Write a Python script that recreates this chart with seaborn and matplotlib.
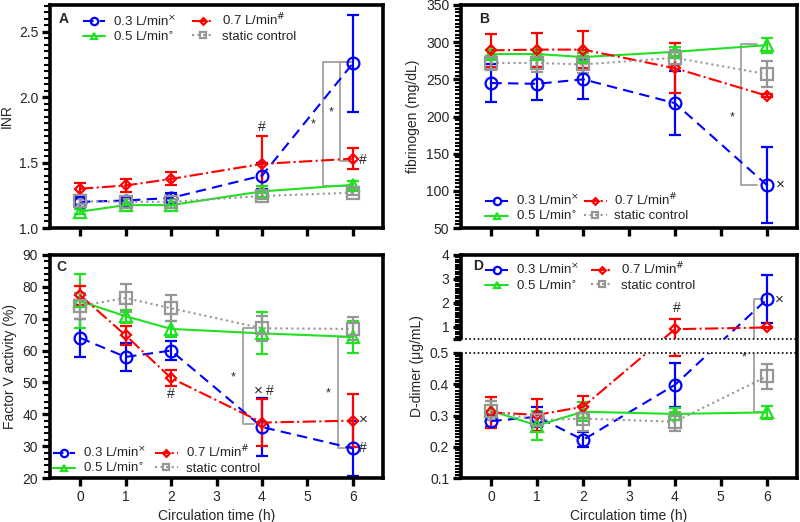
import numpy as np
import matplotlib
matplotlib.use("Agg")
import matplotlib.pyplot as plt
import seaborn as sns
import pandas as pd
from matplotlib.ticker import MultipleLocator, FixedLocator, FixedFormatter

# ---------------- data ----------------
time_h = [0, 1, 2, 4, 6]
legend_labels = ["0.3 L/min$^{\\times}$", "0.5 L/min$^{\\circ}$",
                 "0.7 L/min$^{\\#}$", "static control"]

# A: INR
inr_03 = [1.20, 1.21, 1.23, 1.40, 2.26]
inr_03_err = [0.04, 0.03, 0.04, 0.10, 0.37]
inr_05 = [1.125, 1.175, 1.175, 1.28, 1.33]
inr_05_err = [0.02, 0.02, 0.02, 0.04, 0.03]
inr_07 = [1.30, 1.325, 1.375, 1.49, 1.53]
inr_07_err = [0.045, 0.05, 0.05, 0.21, 0.08]
inr_sc = [1.205, 1.20, 1.20, 1.245, 1.27]
inr_sc_err = [0.02, 0.02, 0.02, 0.02, 0.02]

# B: fibrinogen (mg/dL)
fib_03 = [245, 244, 250, 218, 108]
fib_03_err = [26, 22, 27, 43, 51]
fib_05 = [284, 284, 280, 287, 296]
fib_05_err = [6, 6, 6, 6, 10]
fib_07 = [289, 290, 290, 265, 228]
fib_07_err = [22, 23, 25, 34, 2]
fib_sc = [272, 272, 270, 279, 257]
fib_sc_err = [10, 12, 12, 10, 17]

# C: Factor V activity (%)
fv_03 = [64, 58, 60, 36, 29.3]
fv_03_err = [6, 4.5, 3, 9, 8.7]
fv_05 = [75.5, 70.8, 66.8, 65.4, 64.3]
fv_05_err = [8.5, 2, 2.5, 6.6, 5.1]
fv_07 = [77.4, 64.8, 51.4, 37.4, 38.0]
fv_07_err = [3, 3, 2.5, 7.3, 8.4]
fv_sc = [74, 76.5, 73.3, 67, 66.8]
fv_sc_err = [4, 4.4, 4, 4, 3.6]

# D: D-dimer (ug/mL)
dd_03 = [0.282, 0.296, 0.222, 0.398, 2.15]
dd_03_err = [0.02, 0.032, 0.024, 0.07, 1.0]
dd_05 = [0.315, 0.268, 0.312, 0.305, 0.31]
dd_05_err = [0.03, 0.045, 0.03, 0.02, 0.02]
dd_07 = [0.31, 0.302, 0.328, 0.91, 0.98]
dd_07_err = [0.05, 0.05, 0.035, 0.42, 0.03]
dd_sc = [0.315, 0.285, 0.29, 0.28, 0.425]
dd_sc_err = [0.03, 0.02, 0.04, 0.03, 0.04]

# ---------------- style ----------------
sns.set_theme(style="ticks")
plt.rcParams["font.family"] = ["Liberation Sans", "DejaVu Sans"]
plt.rcParams["mathtext.fontset"] = "dejavusans"

BLUE, GREEN, RED, GRAY = "#0000ff", "#22e022", "#ff0000", "#969696"
styles = [
    dict(color=BLUE, marker="o", ls=(0, (5, 3)), ms=8.5),
    dict(color=GREEN, marker="^", ls="-", ms=8),
    dict(color=RED, marker="D", ls="-.", ms=5.5),
    dict(color=GRAY, marker="s", ls=":", ms=8),
]

fig = plt.figure(figsize=(8, 5.22), dpi=100)
W, H = 800, 522


def add_axes(l, t, r, b):
    return fig.add_axes([l / W, 1 - b / H, (r - l) / W, (b - t) / H])


axA = add_axes(50, 5, 383, 228)
axB = add_axes(461, 5, 797, 228)
axC = add_axes(50, 255, 383, 478)
axD = add_axes(461, 255, 797, 478)


def draw(ax, means, errs):
    for m, e, st, lab in zip(means, errs, styles, legend_labels):
        df = pd.DataFrame({"t": time_h, "v": m})
        ax.errorbar(time_h, m, yerr=e, fmt="none", ecolor=st["color"],
                    elinewidth=1.6, capsize=4, capthick=1.6, zorder=2)
        sns.lineplot(data=df, x="t", y="v", ax=ax, color=st["color"],
                     marker=st["marker"], linestyle=st["ls"],
                     markersize=st["ms"], markerfacecolor="none",
                     markeredgecolor=st["color"], markeredgewidth=1.6,
                     linewidth=1.5, errorbar=None, label=lab, zorder=2.2)
    h, l = ax.get_legend_handles_labels()
    return h, l


def style_axes(ax, bottom_labels):
    ax.set_xlim(-0.66, 6.66)
    ax.set_xticks(range(0, 7))
    for sp in ax.spines.values():
        sp.set_visible(True)
        sp.set_linewidth(2.6)
        sp.set_color("black")
    ax.tick_params(axis="both", which="major", direction="out", length=5.5,
                   width=2.4, labelsize=10, color="black", pad=3)
    ax.tick_params(axis="y", which="minor", direction="out", length=4,
                   width=1.5, color="black", left=True)
    ax.tick_params(axis="x", which="minor", bottom=False)
    ax.tick_params(top=False, right=False)
    if bottom_labels:
        ax.set_xlabel("Circulation time (h)", fontsize=10)
    else:
        ax.tick_params(labelbottom=False)
        ax.set_xlabel("")


def bracket(ax, x_v, x_h, y_top, y_bot, x_h2=None):
    ax.plot([x_h, x_v, x_v, x_h if x_h2 is None else x_h2],
            [y_top, y_top, y_bot, y_bot], color="#a0a0a0", lw=1.3, zorder=1.5)


def leg_kw(colsp):
    return dict(ncol=2, frameon=False, fontsize=9.5, handlelength=1.7,
                handletextpad=0.6, columnspacing=colsp, labelspacing=0.15,
                markerscale=0.62, borderpad=0.2)


def letter(ax, s, x, y):
    ax.text(x, y, s, transform=ax.transAxes, fontweight="bold",
            fontsize=10, va="center", ha="left")


# ---- A ----
h, l = draw(axA, [inr_03, inr_05, inr_07, inr_sc],
            [inr_03_err, inr_05_err, inr_07_err, inr_sc_err])
style_axes(axA, False)
axA.set_ylim(1.0, 2.705)
axA.yaxis.set_major_locator(MultipleLocator(0.5))
axA.yaxis.set_minor_locator(MultipleLocator(0.05))
axA.yaxis.set_major_formatter(matplotlib.ticker.FormatStrFormatter("%.1f"))
axA.set_ylabel("INR", fontsize=10)
axA.legend(h, l, loc="upper left", bbox_to_anchor=(0.07, 1.01), **leg_kw(1.2))
letter(axA, "A", 0.025, 0.935)
bracket(axA, 5.35, 5.95, inr_03[-1] + 0.01, inr_05[-1] - 0.01, 5.9)
bracket(axA, 5.71, 5.95, inr_03[-1] + 0.01, inr_07[-1] - 0.02, 5.9)
axA.text(5.12, 1.79, "*", ha="center", va="center", fontsize=9)
axA.text(5.52, 1.88, "*", ha="center", va="center", fontsize=9)
axA.text(4.0, 1.77, "#", ha="center", va="center", fontsize=10)
axA.text(6.22, 1.52, "#", ha="center", va="center", fontsize=10)

# ---- B ----
h, l = draw(axB, [fib_03, fib_05, fib_07, fib_sc],
            [fib_03_err, fib_05_err, fib_07_err, fib_sc_err])
style_axes(axB, False)
axB.set_ylim(50, 350)
axB.yaxis.set_major_locator(MultipleLocator(50))
axB.yaxis.set_minor_locator(MultipleLocator(5))
axB.set_ylabel("fibrinogen (mg/dL)", fontsize=10)
axB.legend(h, l, loc="lower left", bbox_to_anchor=(0.045, -0.02), **leg_kw(0.4))
letter(axB, "B", 0.054, 0.935)
bracket(axB, 5.43, 5.78, fib_05[-1] + 2, fib_03[-1])
axB.text(5.25, 199, "*", ha="center", va="center", fontsize=9)
axB.text(6.3, 108, "×", ha="center", va="center", fontsize=11)

# ---- C ----
h, l = draw(axC, [fv_03, fv_05, fv_07, fv_sc],
            [fv_03_err, fv_05_err, fv_07_err, fv_sc_err])
style_axes(axC, True)
axC.set_ylim(20, 90)
axC.yaxis.set_major_locator(MultipleLocator(10))
axC.yaxis.set_minor_locator(MultipleLocator(2))
axC.set_ylabel("Factor V activity (%)", fontsize=10)
axC.legend(h, l, loc="lower left", bbox_to_anchor=(-0.02, -0.03), **leg_kw(0.7))
letter(axC, "C", 0.02, 0.945)
bracket(axC, 3.58, 3.82, fv_sc[3], fv_07[3] - 0.5)
bracket(axC, 5.67, 5.9, fv_05[-1], fv_03[-1])
axC.text(3.37, 51.5, "*", ha="center", va="center", fontsize=9)
axC.text(5.45, 46.5, "*", ha="center", va="center", fontsize=9)
axC.text(2.0, 46.3, "#", ha="center", va="center", fontsize=10)
axC.text(3.93, 47.3, "×", ha="center", va="center", fontsize=11)
axC.text(4.18, 47.3, "#", ha="center", va="center", fontsize=10)
axC.text(6.22, 38.2, "×", ha="center", va="center", fontsize=11)
axC.text(6.22, 29.4, "#", ha="center", va="center", fontsize=10)

# ---- D (broken axis) ----
GAP, K = 0.0448, 0.0768


def fwd(y):
    y = np.asarray(y, dtype=float)
    return np.where(y <= 0.5, y, 0.5 + GAP + (y - 0.5) * K)


def inv(u):
    u = np.asarray(u, dtype=float)
    return np.where(u <= 0.5, u,
                    np.where(u < 0.5 + GAP, 0.5, 0.5 + (u - 0.5 - GAP) / K))


axD.set_yscale("function", functions=(fwd, inv))
h, l = draw(axD, [dd_03, dd_05, dd_07, dd_sc],
            [dd_03_err, dd_05_err, dd_07_err, dd_sc_err])
style_axes(axD, True)
axD.set_ylim(0.1, 4.0)
EPS = 1e-7
majors = [0.1, 0.2, 0.3, 0.4, 0.5, 0.5 + EPS, 1, 2, 3, 4]
axD.yaxis.set_major_locator(FixedLocator(majors))
axD.yaxis.set_major_formatter(FixedFormatter(
    ["0.1", "0.2", "0.3", "0.4", "0.5", "", "1", "2", "3", "4"]))
minors = list(np.round(np.arange(0.11, 0.5, 0.01), 3)) + \
    list(np.round(np.arange(0.6, 4.0, 0.1), 2))
axD.yaxis.set_minor_locator(FixedLocator(minors))
axD.set_ylabel("D-dimer (μg/mL)", fontsize=10)
axD.axhspan(0.5, 0.5 + EPS, xmin=-0.03, xmax=0.994, color="white",
            zorder=2.6, clip_on=False, lw=0)
axD.axhline(0.5, color="black", ls=(0, (1, 1.5)), lw=1.2, zorder=2.7)
axD.axhline(0.5 + EPS, color="black", ls=(0, (1, 1.5)), lw=1.2, zorder=2.7)
axD.yaxis.set_zorder(3)
axD.legend(h, l, loc="upper left", bbox_to_anchor=(0.045, 1.015), **leg_kw(0.9))
letter(axD, "D", 0.036, 0.95)
bracket(axD, 5.72, 5.92, dd_03[-1], dd_05[-1])
axD.text(5.5, 0.485, "*", ha="center", va="center", fontsize=9)
axD.text(4.04, 1.78, "#", ha="center", va="center", fontsize=10)
axD.text(6.27, 2.15, "×", ha="center", va="center", fontsize=11)

fig.savefig("out.png", dpi=100)
